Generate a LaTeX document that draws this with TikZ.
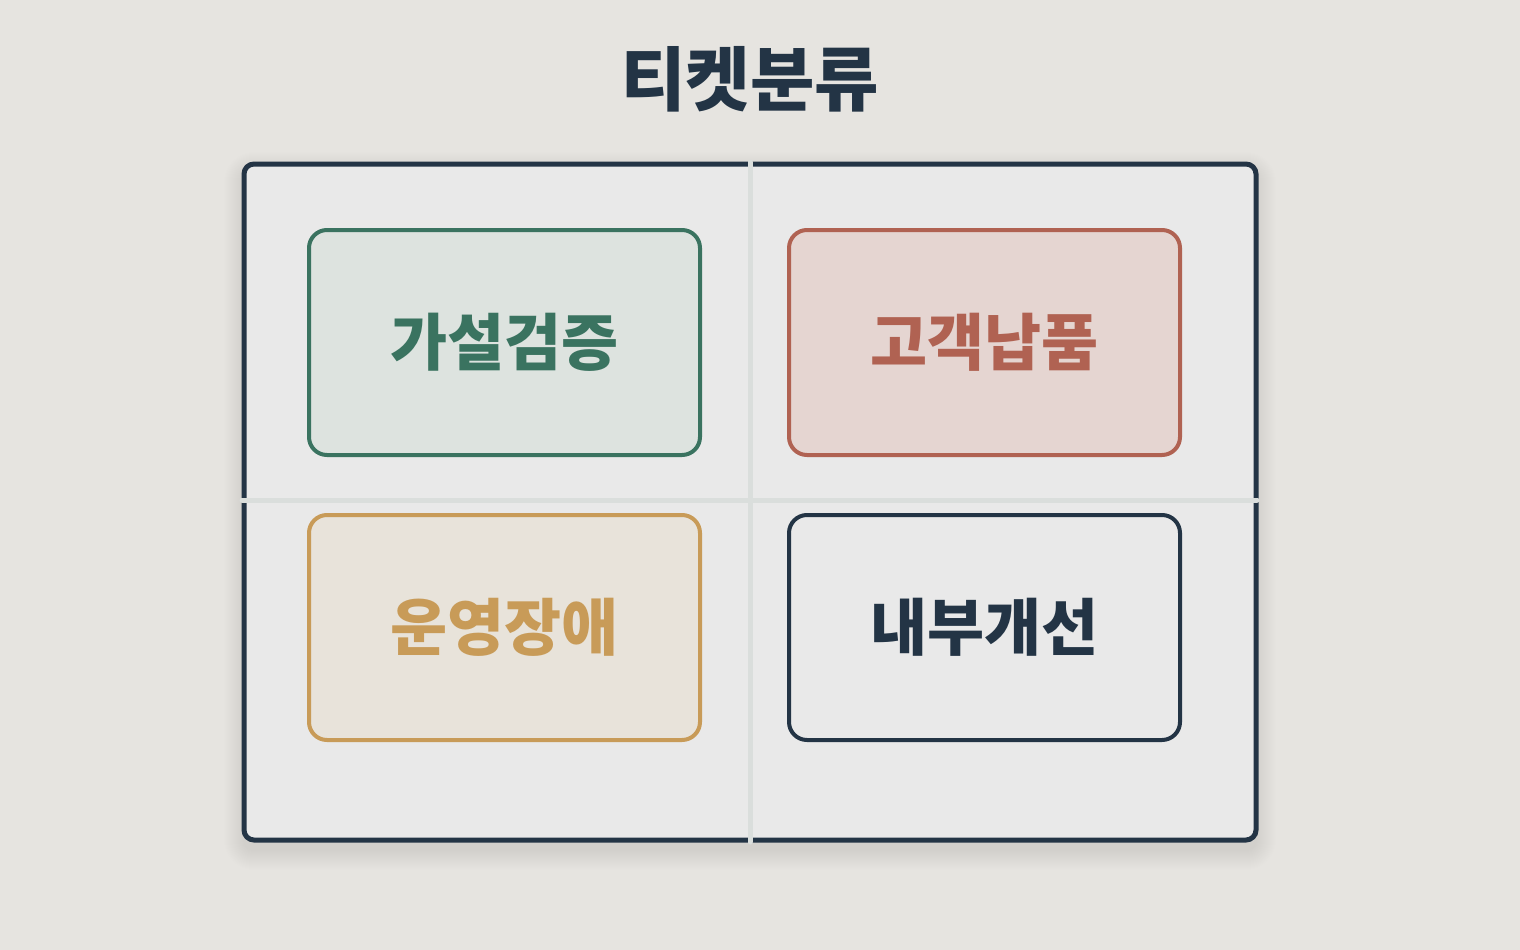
\documentclass[tikz,border=0pt]{standalone}
\usepackage{fontspec}
\newfontfamily\kr{Noto Sans CJK KR}
\definecolor{bg}{HTML}{E6E4E0}
\definecolor{panel}{HTML}{E9E9E9}
\definecolor{navy}{HTML}{233445}
\definecolor{divider}{HTML}{DADEDC}
\definecolor{grn}{HTML}{3A7360}
\definecolor{grnfill}{HTML}{DDE3DF}
\definecolor{rust}{HTML}{B06252}
\definecolor{rustfill}{HTML}{E5D5D1}
\definecolor{gold}{HTML}{C89B58}
\definecolor{goldfill}{HTML}{E8E3DA}
\begin{document}
\begin{tikzpicture}[x=1pt,y=-1pt,
  frame/.style={draw=navy, line width=5pt, fill=panel, rounded corners=10pt,
    minimum width=1012pt, minimum height=676pt, inner sep=0pt},
  divline/.style={draw=divider, line width=5pt, line cap=round},
  card/.style={line width=4pt, rounded corners=18pt, minimum width=391pt,
    minimum height=225pt, inner sep=0pt, font=\kr\bfseries\fontsize{62}{66}\selectfont},
  titletext/.style={font=\kr\bfseries\fontsize{70}{74}\selectfont, text=navy}
]
\fill[bg] (0,0) rectangle (1520,950);
\useasboundingbox (0,0) rectangle (1520,950);

% soft shadow of the panel
\foreach \i in {1,...,20}{
  \fill[black, opacity=0.0035, rounded corners=10pt+\i pt]
    (244-\i,172-\i) rectangle (1256+\i,850+\i);
}

\node[titletext] (title) at (750,79) {티켓분류};

\node[frame] (frame) at (750,502) {};

\coordinate (vtop) at (750,162);
\coordinate (vbot) at (750,842);
\coordinate (hleft) at (242,500);
\coordinate (hright) at (1257,500);
\draw[divline] (vtop) -- (vbot);
\draw[divline] (hleft) -- (hright);

\node[card, draw=grn, fill=grnfill, text=grn] (q1) at (504.5,342.5) {가설검증};
\node[card, draw=rust, fill=rustfill, text=rust] (q2) at (984.5,342.5) {고객납품};
\node[card, draw=gold, fill=goldfill, text=gold] (q3) at (504.5,627.5) {운영장애};
\node[card, draw=navy, fill=panel, text=navy] (q4) at (984.5,627.5) {내부개선};
\end{tikzpicture}
\end{document}
